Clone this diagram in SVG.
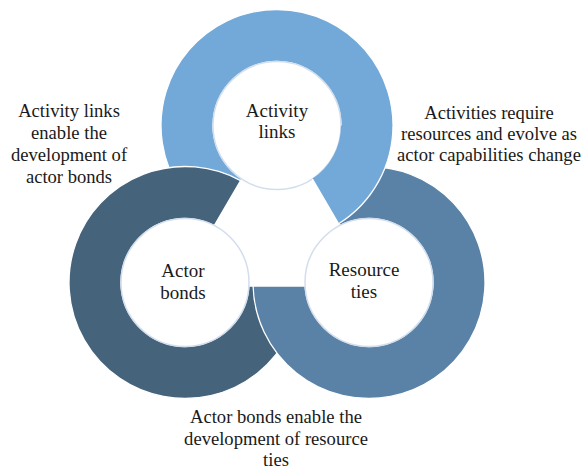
<svg xmlns="http://www.w3.org/2000/svg" width="585" height="472" viewBox="0 0 585 472">
  <style>
    .ring { stroke: #ffffff; stroke-width: 1.3; stroke-linejoin: round; }
    .hole { fill: #ffffff; stroke: #d3deed; stroke-width: 1.5; }
    .label { font-family: "Liberation Serif", "Times New Roman", serif; font-size: 19px; fill: #1a1a1a; text-anchor: middle; }
    .note { font-family: "Liberation Serif", "Times New Roman", serif; font-size: 18.6px; fill: #1a1a1a; text-anchor: middle; }
  </style>
  <rect width="585" height="472" fill="#ffffff"/>

  <g id="activity-links">
    <path class="ring" fill="#72a9d8" d="M338.64,223.77 A116,116 0 1 0 215.36,223.77 L241.67,178.86 A64,64 0 1 1 312.33,178.86 Z"/>
    <circle class="hole" cx="277" cy="125.5" r="64"/>
    <text class="label" x="277" y="117">Activity</text>
    <text class="label" x="277" y="138">links</text>
  </g>

  <g id="actor-bonds">
    <path class="ring" fill="#46637c" d="M240.6,180.69 A116,116 0 1 0 300.95,286 L248.9,286 A64,64 0 1 1 214.29,225.6 Z"/>
    <circle class="hole" cx="185" cy="282.5" r="64"/>
    <text class="label" x="183" y="277">Actor</text>
    <text class="label" x="183" y="299">bonds</text>
  </g>

  <g id="resource-ties">
    <path class="ring" fill="#5a82a6" d="M253.05,286 A116,116 0 1 0 313.4,180.69 L339.71,225.6 A64,64 0 1 1 305.1,286 Z"/>
    <circle class="hole" cx="369" cy="282.5" r="64"/>
    <text class="label" x="364" y="276">Resource</text>
    <text class="label" x="364" y="298">ties</text>
  </g>

  <g id="activity-links-overlap">
    <path fill="#72a9d8" d="M393,125.5 A116,116 0 0 1 338.64,223.77 L312.33,178.86 A64,64 0 0 0 341,125.5 Z"/>
    <path fill="none" stroke="#ffffff" stroke-width="1.3" d="M393,125.5 A116,116 0 0 1 338.64,223.77 L312.33,178.86"/>
  </g>

  <g id="connectors">
    <g id="note-activity-to-actor">
      <text class="note" x="69" y="117">Activity links</text>
      <text class="note" x="69" y="139">enable the</text>
      <text class="note" x="69" y="161">development of</text>
      <text class="note" x="69" y="183">actor bonds</text>
    </g>
    <g id="note-resource-to-activity">
      <text class="note" x="489" y="119">Activities require</text>
      <text class="note" x="489" y="140">resources and evolve as</text>
      <text class="note" x="489" y="161">actor capabilities change</text>
    </g>
    <g id="note-actor-to-resource">
      <text class="note" x="276" y="423">Actor bonds enable the</text>
      <text class="note" x="276" y="445">development of resource</text>
      <text class="note" x="276" y="466">ties</text>
    </g>
  </g>
</svg>
